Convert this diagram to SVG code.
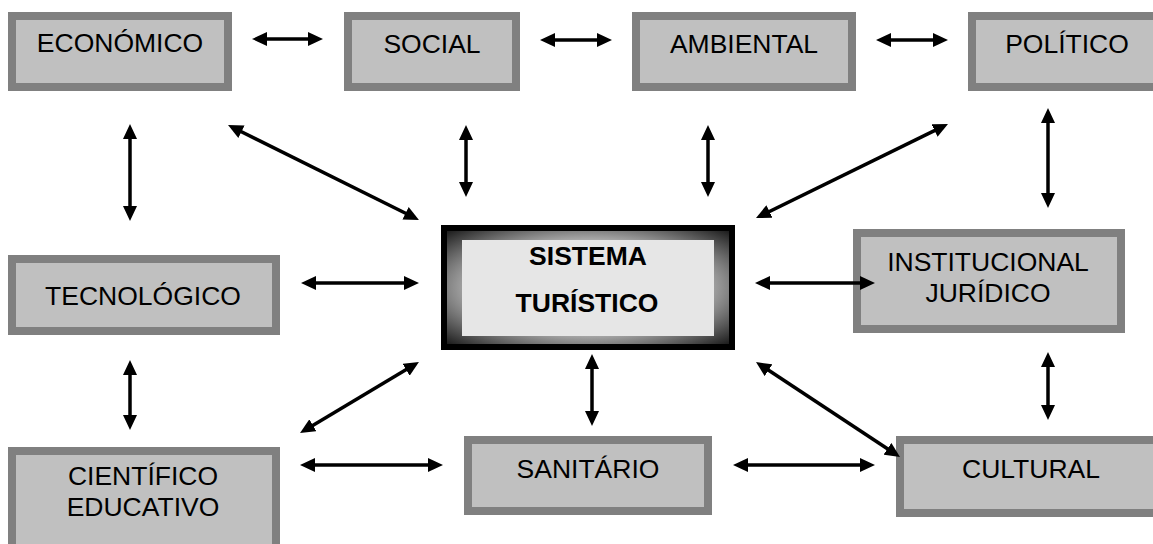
<svg xmlns="http://www.w3.org/2000/svg" width="1153" height="544" viewBox="0 0 1153 544">
<style>
.box{fill:#c0c0c0;stroke:#808080;stroke-width:8}
.t{font-family:"Liberation Sans",Arial,sans-serif;font-size:26.5px;fill:#000;text-anchor:middle}
.tb{font-family:"Liberation Sans",Arial,sans-serif;font-size:26.5px;font-weight:bold;fill:#000;text-anchor:middle}
.c line{stroke:#000;stroke-width:3.5;marker-start:url(#ah);marker-end:url(#ah)}
</style>
<defs>
<marker id="ah" markerUnits="userSpaceOnUse" markerWidth="15" markerHeight="14" refX="9" refY="7" orient="auto-start-reverse" viewBox="0 0 15 14">
<path d="M0,0 L15,7 L0,14 z" fill="#000"/>
</marker>
<radialGradient id="fg" cx="50%" cy="50%" r="71%">
<stop offset="0.6" stop-color="#a8a8a8"/>
<stop offset="1" stop-color="#1a1a1a"/>
</radialGradient>
</defs>
<rect width="1153" height="544" fill="#fff"/>
<g id="economico"><rect class="box" x="12" y="16" width="216" height="71"/><text class="t" x="120" y="52">ECONÓMICO</text></g>
<g id="social"><rect class="box" x="348" y="16" width="168" height="71"/><text class="t" x="432" y="53">SOCIAL</text></g>
<g id="ambiental"><rect class="box" x="636" y="16" width="216" height="71"/><text class="t" x="744" y="53">AMBIENTAL</text></g>
<g id="politico"><rect class="box" x="972" y="16" width="192" height="71"/><text class="t" x="1067" y="53">POLÍTICO</text></g>
<g id="tecnologico"><rect class="box" x="12" y="259" width="264" height="72"/><text class="t" x="143" y="305">TECNOLÓGICO</text></g>
<g id="sistema">
<rect x="441" y="225" width="294" height="125" fill="#000"/>
<rect x="447" y="231" width="282" height="113" fill="url(#fg)"/>
<rect x="462" y="240" width="252" height="96" fill="#e6e6e6"/>
<text class="tb" x="588" y="265">SISTEMA</text>
<text class="tb" x="587" y="312">TURÍSTICO</text>
</g>
<g id="institucional"><rect class="box" x="857" y="233" width="264" height="96"/><text class="t" x="988" y="271">INSTITUCIONAL</text><text class="t" x="988" y="302">JURÍDICO</text></g>
<g id="cientifico"><rect class="box" x="12" y="451" width="264" height="110"/><text class="t" x="143" y="485">CIENTÍFICO</text><text class="t" x="143" y="516">EDUCATIVO</text></g>
<g id="sanitario"><rect class="box" x="468" y="440" width="240" height="71"/><text class="t" x="588" y="478">SANITÁRIO</text></g>
<g id="cultural"><rect class="box" x="900" y="440" width="262" height="73"/><text class="t" x="1031" y="478">CULTURAL</text></g>
<g id="connectors" class="c">
<line x1="258" y1="39" x2="317" y2="39"/>
<line x1="546" y1="40" x2="606" y2="40"/>
<line x1="882" y1="40" x2="942" y2="40"/>
<line x1="307" y1="283" x2="413" y2="283"/>
<line x1="761" y1="283" x2="869" y2="283"/>
<line x1="306" y1="465" x2="437" y2="465"/>
<line x1="739" y1="465" x2="869" y2="465"/>
<line x1="130" y1="130" x2="130" y2="215"/>
<line x1="466" y1="131" x2="466" y2="191"/>
<line x1="708" y1="131" x2="708" y2="191"/>
<line x1="1048" y1="114" x2="1048" y2="202"/>
<line x1="130" y1="366" x2="130" y2="424"/>
<line x1="592" y1="360" x2="592" y2="420"/>
<line x1="1048" y1="358" x2="1048" y2="414"/>
<line x1="233.4" y1="127.7" x2="413.6" y2="217.3"/>
<line x1="942.6" y1="126.6" x2="761.4" y2="215.4"/>
<line x1="305.2" y1="429.9" x2="413.8" y2="365.1"/>
<line x1="761" y1="365.3" x2="895" y2="453.7"/>
</g>
</svg>
